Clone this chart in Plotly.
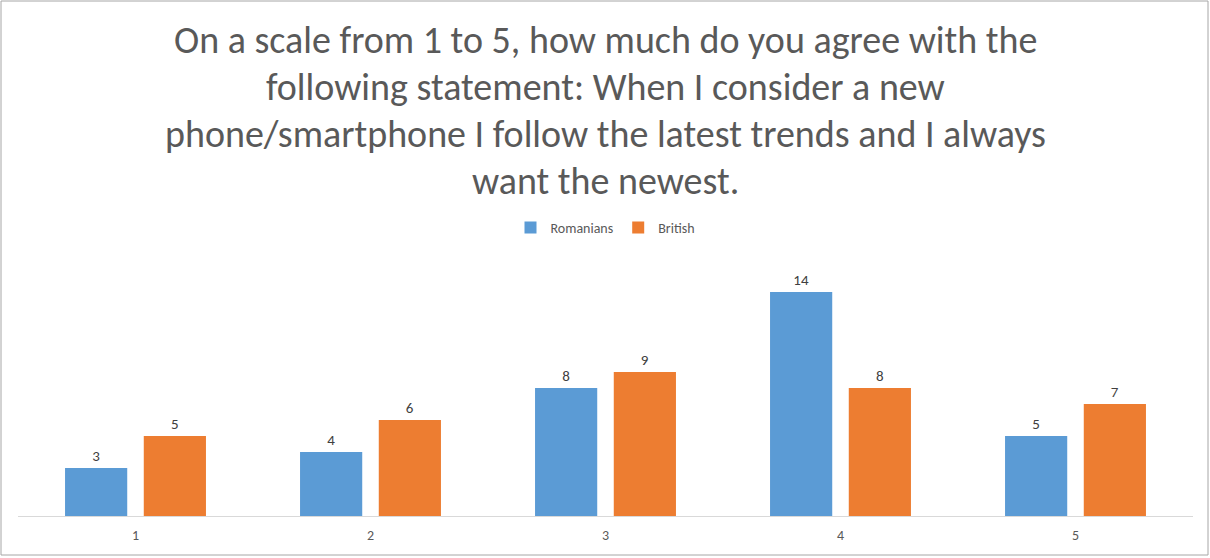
import plotly.graph_objects as go

categories = ["1", "2", "3", "4", "5"]
romanians = [3, 4, 8, 14, 5]
british = [5, 6, 9, 8, 7]
title_lines = [
    "On a scale from 1 to 5, how much do you agree with the",
    "following statement: When I consider a new",
    "phone/smartphone I follow the latest trends and I always",
    "want the newest.",
]

FONT = "Carlito, Calibri, Lato, sans-serif"
W, H = 1210, 558
ML, MR, MT, MB = 18, 17, 260, 42
PH = H - MT - MB


def py(p):
    return (H - MB - p) / PH


def px(p):
    return (p - ML) / (W - ML - MR)


fig = go.Figure()
fig.add_trace(go.Bar(name="Romanians", x=categories, y=romanians,
                     marker=dict(color="#5B9BD5", line=dict(width=0)),
                     text=romanians, textposition="outside",
                     textfont=dict(color="#404040", size=15, family=FONT),
                     cliponaxis=False))
fig.add_trace(go.Bar(name="British", x=categories, y=british,
                     marker=dict(color="#ED7D31", line=dict(width=0)),
                     text=british, textposition="outside",
                     textfont=dict(color="#404040", size=15, family=FONT),
                     cliponaxis=False))

line_y = [40, 87, 134, 181]
annotations = []
for t, yy in zip(title_lines, line_y):
    annotations.append(dict(text=t, x=px(605), y=py(yy), xref="paper", yref="paper",
                            xanchor="center", yanchor="middle", showarrow=False,
                            font=dict(size=38, color="#595959", family=FONT)))

fig.update_layout(
    width=W, height=H,
    margin=dict(l=ML, r=MR, t=MT, b=MB),
    paper_bgcolor="white", plot_bgcolor="white",
    barmode="group", bargap=0.33, bargroupgap=0.21,
    font=dict(family=FONT, color="#595959", size=14),
    showlegend=True,
    legend=dict(orientation="h", x=0.5, xanchor="center", y=py(228), yanchor="middle",
                font=dict(size=14, color="#595959", family=FONT),
                itemwidth=30, traceorder="normal"),
    xaxis=dict(showline=True, linecolor="#D9D9D9", linewidth=1, ticks="",
               ticklabelstandoff=6,
               tickfont=dict(size=14, color="#595959", family=FONT), showgrid=False),
    yaxis=dict(range=[0, 16], visible=False, showgrid=False, zeroline=False),
    annotations=annotations,
    shapes=[dict(type="rect", xref="paper", yref="paper",
                 x0=px(1), x1=px(1208), y0=py(555), y1=py(1),
                 line=dict(color="#A6A6A6", width=1), fillcolor="rgba(0,0,0,0)")],
)

fig.write_html("out.html")
